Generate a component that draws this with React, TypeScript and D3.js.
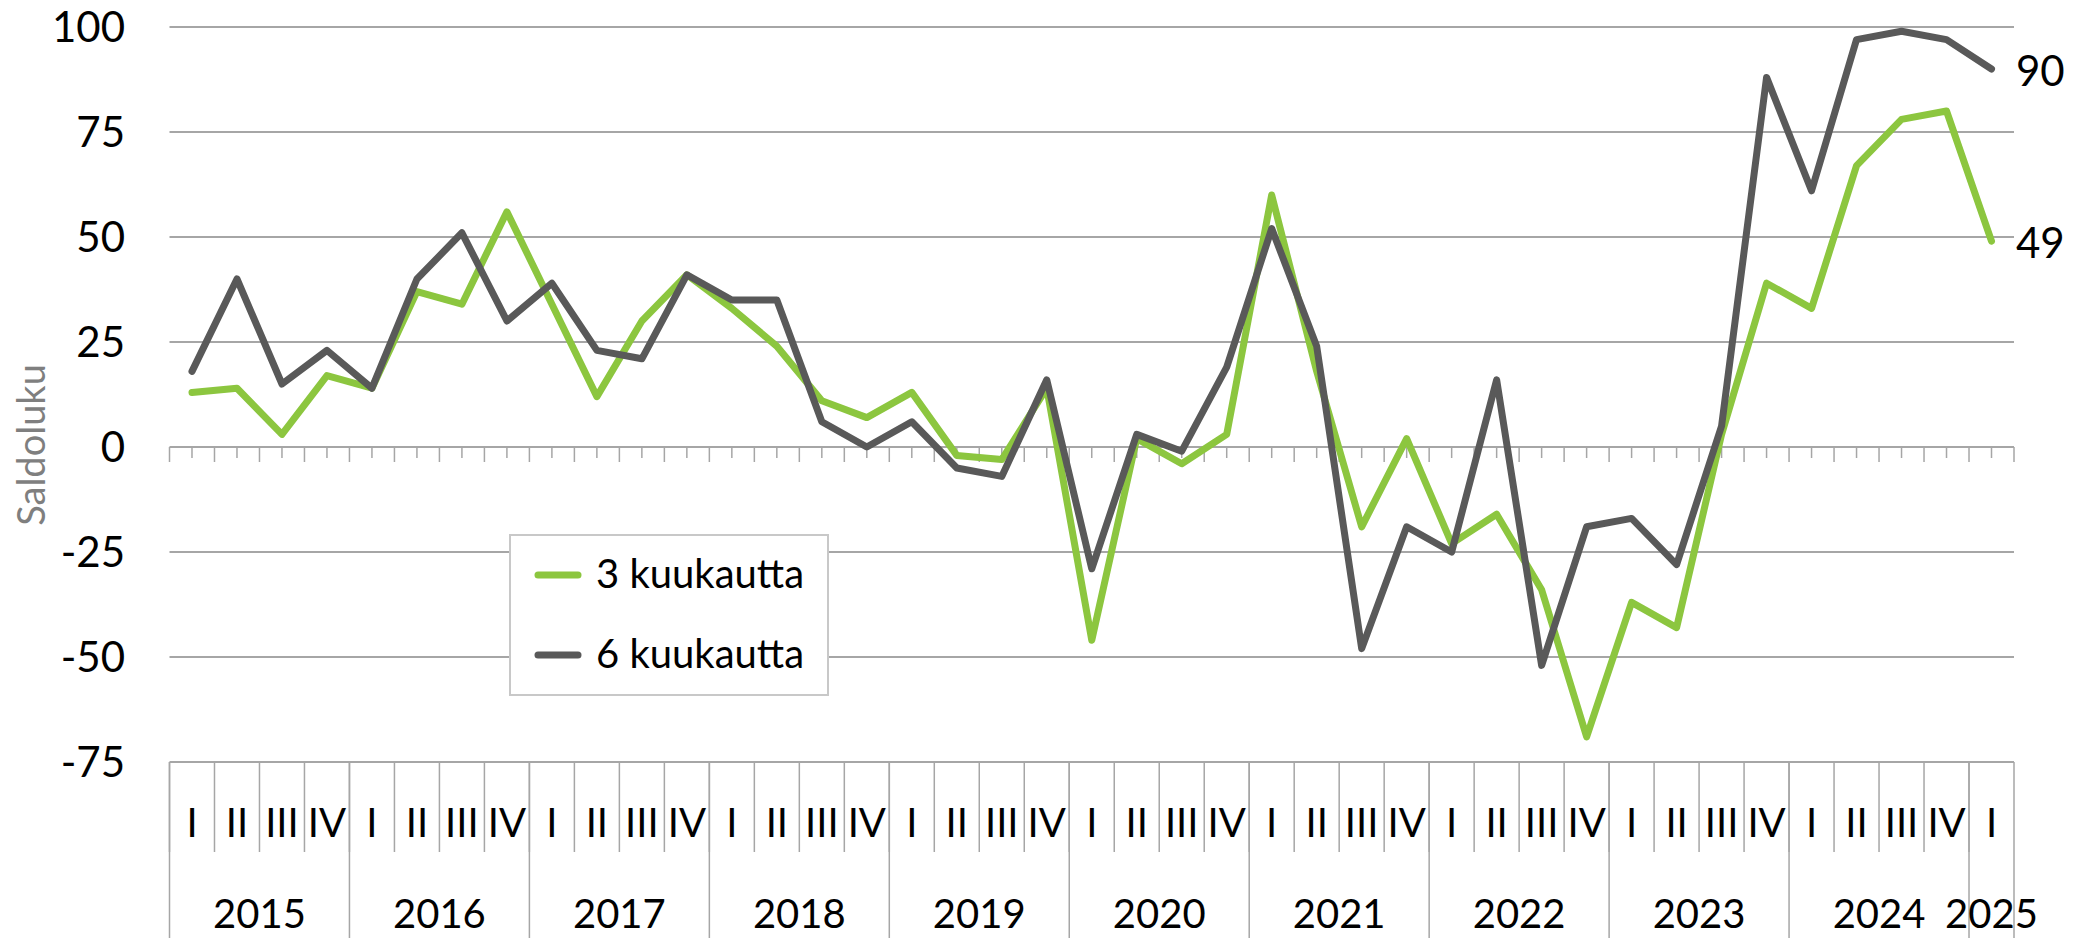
import { useMemo } from "react";
import * as d3 from "d3";

const WIDTH = 2073;
const HEIGHT = 938;
const MARGIN = { top: 27, right: 59, bottom: 176, left: 169.5 };

const years = ["2015", "2016", "2017", "2018", "2019", "2020", "2021", "2022", "2023", "2024", "2025"];
const quarterNames = ["I", "II", "III", "IV"];
const quartersInYear = [4, 4, 4, 4, 4, 4, 4, 4, 4, 4, 1];

// 3 kuukautta
const threeMonths = [
  13, 14, 3, 17, 14, 37, 34, 56, 34, 12, 30, 41, 33, 24, 11, 7, 13, -2, -3, 14, -46,
  2, -4, 3, 60, 18, -19, 2, -23, -16, -34, -69, -37, -43, 3, 39, 33, 67, 78, 80, 49,
];
// 6 kuukautta
const sixMonths = [
  18, 40, 15, 23, 14, 40, 51, 30, 39, 23, 21, 41, 35, 35, 6, 0, 6, -5, -7, 16, -29,
  3, -1, 19, 52, 24, -48, -19, -25, 16, -52, -19, -17, -28, 5, 88, 61, 97, 99, 97, 90,
];

const yTicks = [100, 75, 50, 25, 0, -25, -50, -75];

const seriesNames = ["3 kuukautta", "6 kuukautta"];
const GREEN = "#8cc63f";
const GRAY = "#595959";
const GRID = "#a6a6a6";
const FONT = "Lato, 'Noto Sans', sans-serif";

export default function App() {
  const periods = useMemo(() => {
    const out: { id: string; q: string; year: string }[] = [];
    years.forEach((y, yi) => {
      for (let q = 0; q < quartersInYear[yi]; q++) {
        out.push({ id: `${y}-${q}`, q: quarterNames[q], year: y });
      }
    });
    return out;
  }, []);

  const x = d3
    .scaleBand<string>()
    .domain(periods.map((p) => p.id))
    .range([MARGIN.left, WIDTH - MARGIN.right])
    .padding(0);

  const y = d3.scaleLinear().domain([-75, 100]).range([HEIGHT - MARGIN.bottom, MARGIN.top]);

  const bw = x.bandwidth();
  const cx = (i: number) => (x(periods[i].id) ?? 0) + bw / 2;

  const line = d3
    .line<number>()
    .x((_, i) => cx(i))
    .y((d) => y(d));

  const plotLeft = MARGIN.left;
  const plotRight = WIDTH - MARGIN.right;
  const axisY = y(-75);

  // year spans
  const yearSpans = years.map((yr, yi) => {
    const first = periods.findIndex((p) => p.year === yr);
    const n = quartersInYear[yi];
    const x0 = x(periods[first].id) ?? 0;
    return { yr, x0, x1: x0 + n * bw };
  });

  const legend = { x: 510, y: 535, w: 318, h: 160 };

  return (
    <div style={{ position: "absolute", left: 0, top: 0 }}>
      <svg width={WIDTH} height={HEIGHT} style={{ display: "block", background: "#fff" }}>
        {/* gridlines */}
        {yTicks.map((t) => (
          <line key={t} x1={plotLeft} x2={plotRight} y1={y(t)} y2={y(t)} stroke={GRID} strokeWidth={2} />
        ))}

        {/* ticks on zero axis */}
        {periods.map((p, i) => (
          <g key={p.id}>
            <line x1={x(p.id)} x2={x(p.id)} y1={y(0)} y2={y(0) + 15} stroke={GRID} strokeWidth={1.5} />
            <line x1={cx(i)} x2={cx(i)} y1={y(0)} y2={y(0) + 11} stroke={GRID} strokeWidth={1.5} />
          </g>
        ))}
        <line x1={plotRight} x2={plotRight} y1={y(0)} y2={y(0) + 15} stroke={GRID} strokeWidth={1.5} />

        {/* y tick labels */}
        {yTicks.map((t) => (
          <text key={t} x={125} y={y(t) + 15} textAnchor="end" fontFamily={FONT} fontSize={42} fill="#000">
            {t}
          </text>
        ))}

        <text
          transform={`translate(45,445) rotate(-90)`}
          textAnchor="middle"
          fontFamily={FONT}
          fontSize={38}
          fill="#7f7f7f"
        >
          Saldoluku
        </text>

        {/* category axis */}
        {periods.map((p, i) => (
          <g key={"c" + p.id}>
            <line x1={x(p.id)} x2={x(p.id)} y1={axisY} y2={852} stroke={GRID} strokeWidth={1.5} />
            <text x={cx(i)} y={837} textAnchor="middle" fontFamily={FONT} fontSize={40} fill="#000">
              {p.q}
            </text>
          </g>
        ))}
        {yearSpans.map((s) => (
          <g key={s.yr}>
            <line x1={s.x0} x2={s.x0} y1={axisY} y2={HEIGHT} stroke={GRID} strokeWidth={1.5} />
            <text x={(s.x0 + s.x1) / 2} y={928} textAnchor="middle" fontFamily={FONT} fontSize={40} fill="#000">
              {s.yr}
            </text>
          </g>
        ))}
        <line x1={plotRight} x2={plotRight} y1={axisY} y2={HEIGHT} stroke={GRID} strokeWidth={1.5} />

        {/* series */}
        <path d={line(threeMonths) ?? ""} fill="none" stroke={GREEN} strokeWidth={7} strokeLinejoin="round" strokeLinecap="round" />
        <path d={line(sixMonths) ?? ""} fill="none" stroke={GRAY} strokeWidth={7} strokeLinejoin="round" strokeLinecap="round" />

        {/* end labels */}
        <text x={2016} y={y(sixMonths[sixMonths.length - 1]) + 16.5} fontFamily={FONT} fontSize={42} fill="#000">
          {sixMonths[sixMonths.length - 1]}
        </text>
        <text x={2016} y={y(threeMonths[threeMonths.length - 1]) + 16.5} fontFamily={FONT} fontSize={42} fill="#000">
          {threeMonths[threeMonths.length - 1]}
        </text>

        {/* legend */}
        <rect x={legend.x} y={legend.y} width={legend.w} height={legend.h} fill="#fff" stroke="#c8c8c8" strokeWidth={2} />
        {seriesNames.map((name, i) => {
          const ly = i === 0 ? 575 : 655;
          return (
            <g key={name}>
              <line x1={538} x2={578} y1={ly} y2={ly} stroke={i === 0 ? GREEN : GRAY} strokeWidth={7} strokeLinecap="round" />
              <text x={596} y={ly + 13} fontFamily={FONT} fontSize={40} fill="#000">
                {name}
              </text>
            </g>
          );
        })}
      </svg>
    </div>
  );
}
